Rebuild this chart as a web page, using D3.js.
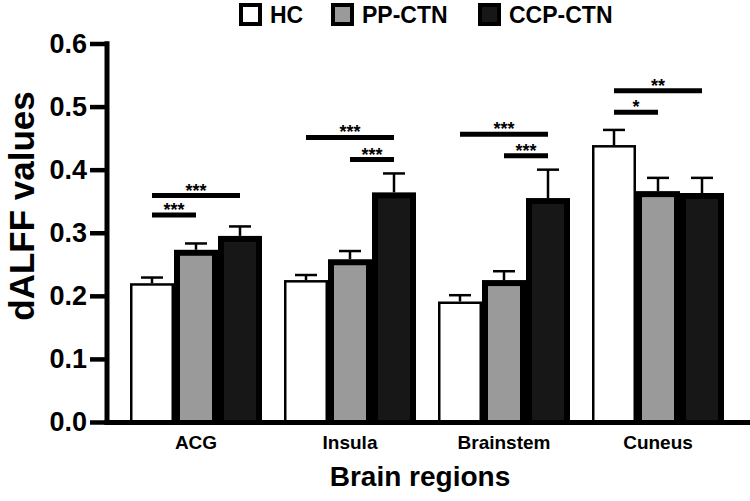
<!DOCTYPE html>
<html>
<head>
<meta charset="utf-8">
<script src="https://cdn.jsdelivr.net/npm/d3@7"></script>
<style>
  body { margin: 0; background: #fff; }
  svg { display: block; font-family: Arial, "Liberation Sans", sans-serif; font-weight: bold; }
</style>
</head>
<body>
<div id="chart"></div>
<script>
const regions = ["ACG", "Insula", "Brainstem", "Cuneus"];
const groups = ["HC", "PP-CTN", "CCP-CTN"];

// mean and SEM per group, in region order
const hcMean = [0.220, 0.225, 0.191, 0.439];
const hcErr = [0.009, 0.008, 0.010, 0.024];
const ppMean = [0.273, 0.258, 0.225, 0.366];
const ppErr = [0.010, 0.013, 0.014, 0.021];
const ccpMean = [0.295, 0.364, 0.355, 0.363];
const ccpErr = [0.015, 0.030, 0.045, 0.024];

const yTicks = [0.0, 0.1, 0.2, 0.3, 0.4, 0.5, 0.6];

// significance brackets: region, from group, to group, height, label
const sigRegion = ["ACG", "ACG", "Insula", "Insula", "Brainstem", "Brainstem", "Cuneus", "Cuneus"];
const sigFrom = ["HC", "HC", "HC", "PP-CTN", "HC", "PP-CTN", "HC", "HC"];
const sigTo = ["CCP-CTN", "PP-CTN", "CCP-CTN", "CCP-CTN", "CCP-CTN", "CCP-CTN", "CCP-CTN", "PP-CTN"];
const sigY = [0.359, 0.328, 0.451, 0.416, 0.456, 0.422, 0.525, 0.491];
const sigLabel = ["***", "***", "***", "***", "***", "***", "**", "*"];

const means = [hcMean, ppMean, ccpMean];
const errs = [hcErr, ppErr, ccpErr];
const data = [];
regions.forEach((r, i) => {
  groups.forEach((g, j) => {
    data.push({region: r, group: g, mean: means[j][i], err: errs[j][i]});
  });
});

const W = 750, H = 501;
const axisX = 107;

const svg = d3.select("#chart").append("svg")
  .attr("width", W)
  .attr("height", H);

const y = d3.scaleLinear()
  .domain([0, 0.6])
  .range([422, 43.5]);

const x0 = d3.scaleBand()
  .domain(regions)
  .range([119, 735])
  .paddingInner(1 / 7)
  .paddingOuter(1 / 14);

const x1 = d3.scaleBand()
  .domain(groups)
  .range([0, x0.bandwidth()]);

const fill = d3.scaleOrdinal()
  .domain(groups)
  .range(["#ffffff", "#9a9a9a", "#171717"]);

const border = d3.scaleOrdinal()
  .domain(groups)
  .range([2.5, 6, 6]);

//Error bars (drawn first, bars go on top)
const eb = svg.append("g").attr("class", "errbars");
data.forEach(d => {
  const cx = x0(d.region) + x1(d.group) + x1.bandwidth() / 2;
  eb.append("line")
    .attr("x1", cx).attr("x2", cx)
    .attr("y1", y(d.mean)).attr("y2", y(d.mean + d.err))
    .attr("stroke", "#000").attr("stroke-width", 2.5);
  eb.append("line")
    .attr("x1", cx - 11).attr("x2", cx + 11)
    .attr("y1", y(d.mean + d.err)).attr("y2", y(d.mean + d.err))
    .attr("stroke", "#000").attr("stroke-width", 2.5);
});

//Bars, border drawn inside the bar
const bars = svg.append("g").attr("class", "bars");
data.forEach(d => {
  const bx = x0(d.region) + x1(d.group);
  const bw = x1.bandwidth();
  const top = y(d.mean), bot = y(0);
  const sw = border(d.group);
  bars.append("rect")
    .attr("x", bx).attr("y", top)
    .attr("width", bw).attr("height", bot - top)
    .attr("fill", "#000");
  bars.append("rect")
    .attr("x", bx + sw).attr("y", top + sw)
    .attr("width", bw - 2 * sw).attr("height", Math.max(0, bot - top - sw))
    .attr("fill", fill(d.group));
});

//Y axis
const yAxis = svg.append("g")
  .attr("transform", `translate(${axisX},0)`)
  .call(d3.axisLeft(y).tickValues(yTicks).tickFormat(d3.format(".1f")).tickSize(17).tickSizeOuter(0).tickPadding(3));
yAxis.select(".domain").attr("stroke-width", 5).attr("d", `M0,${y(0) + 2.5}V${y(0.6) - 2.2}`);
yAxis.selectAll(".tick line").attr("stroke-width", 4.5);
yAxis.selectAll(".tick text")
  .style("font-size", "27px")
  .attr("fill", "#000");

//X axis line
svg.append("line")
  .attr("x1", axisX - 2.5).attr("x2", W)
  .attr("y1", y(0) + 0.5).attr("y2", y(0) + 0.5)
  .attr("stroke", "#000").attr("stroke-width", 5);

//Category labels
svg.append("g")
  .selectAll("text")
  .data(regions)
  .enter()
  .append("text")
    .attr("x", d => x0(d) + x0.bandwidth() / 2)
    .attr("y", 449)
    .attr("text-anchor", "middle")
    .style("font-size", "19px")
    .text(d => d);

//Axis titles
svg.append("text")
  .attr("x", 420)
  .attr("y", 486)
  .attr("text-anchor", "middle")
  .style("font-size", "28px")
  .text("Brain regions");

svg.append("text")
  .attr("transform", "translate(34,206) rotate(-90)")
  .attr("text-anchor", "middle")
  .style("font-size", "35px")
  .text("dALFF values");

//Significance brackets
const sig = svg.append("g").attr("class", "sig");
sigY.forEach((v, i) => {
  const r = sigRegion[i];
  const xa = x0(r) + x1(sigFrom[i]) + x1.bandwidth() / 2;
  const xb = x0(r) + x1(sigTo[i]) + x1.bandwidth() / 2;
  sig.append("line")
    .attr("x1", xa).attr("x2", xb)
    .attr("y1", y(v)).attr("y2", y(v))
    .attr("stroke", "#000").attr("stroke-width", 5);
  sig.append("text")
    .attr("x", (xa + xb) / 2)
    .attr("y", y(v) + 1)
    .attr("text-anchor", "middle")
    .style("font-size", "18px")
    .text(sigLabel[i]);
});

//Legend
const legendX = [239, 331, 478];
const legend = svg.append("g");
const items = legend.selectAll("g")
  .data(groups)
  .enter()
  .append("g")
    .attr("transform", (d, i) => `translate(${legendX[i]},3)`);
items.append("rect")
  .attr("x", 2).attr("y", 2)
  .attr("width", 19).attr("height", 19)
  .attr("fill", d => fill(d))
  .attr("stroke", "#000")
  .attr("stroke-width", 4);
items.append("text")
  .attr("x", 31)
  .attr("y", 20)
  .style("font-size", "23px")
  .text(d => d);
</script>
</body>
</html>
